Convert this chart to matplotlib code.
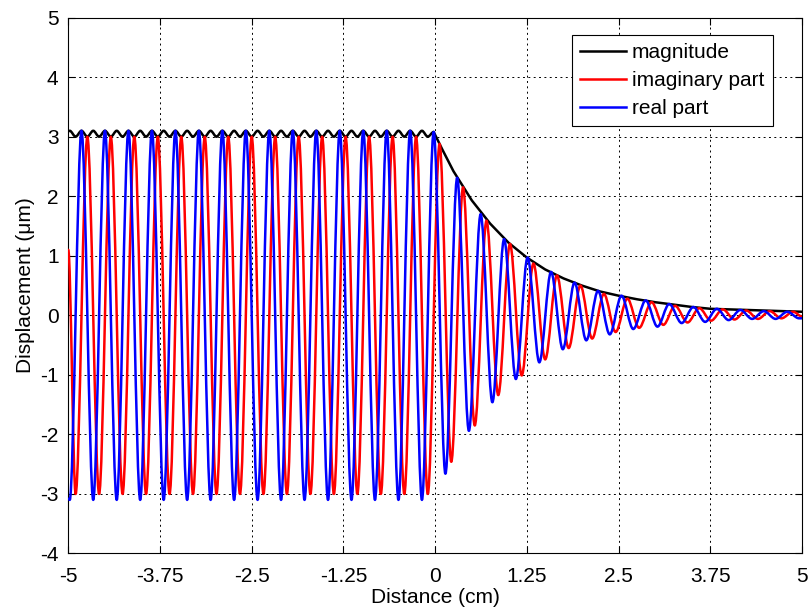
import matplotlib
matplotlib.use("Agg")
import matplotlib.pyplot as plt
from matplotlib.path import Path
from matplotlib.patches import PathPatch
from matplotlib.lines import Line2D

plt.rcParams['font.family'] = ['Liberation Sans', 'DejaVu Sans']
plt.rcParams['axes.unicode_minus'] = False

# extrema (x in cm, y in um)
# real part, x < 0 : starts at the left edge, then trough / peak alternating
real_neg_x = [-5.00, -4.98, -4.82, -4.66, -4.50, -4.34, -4.18, -4.02, -3.86, -3.70, -3.54,
              -3.38, -3.22, -3.06, -2.90, -2.74, -2.58, -2.42, -2.26, -2.10, -1.94,
              -1.78, -1.62, -1.46, -1.30, -1.14, -0.98, -0.82, -0.66, -0.50, -0.34,
              -0.18, -0.02]
real_neg_y = [-3.08, -3.1, 3.1, -3.1, 3.1, -3.1, 3.1, -3.1, 3.1, -3.1, 3.1,
              -3.1, 3.1, -3.1, 3.1, -3.1, 3.1, -3.1, 3.1, -3.1, 3.1,
              -3.1, 3.1, -3.1, 3.1, -3.1, 3.1, -3.1, 3.1, -3.1, 3.1,
              -3.1, 3.08]
# real part, x > 0 (decaying)
real_pos_x = [0.14, 0.30, 0.46, 0.62, 0.78, 0.94, 1.10, 1.26, 1.42, 1.58, 1.74,
              1.90, 2.06, 2.22, 2.38, 2.54, 2.70, 2.87, 3.03, 3.19, 3.36,
              3.52, 3.68, 3.84, 4.00, 4.16, 4.32, 4.48, 4.64, 4.80, 4.96, 5.00]
real_pos_y = [-2.66, 2.31, -1.94, 1.70, -1.46, 1.28, -1.07, 0.97, -0.79, 0.73, -0.57,
              0.55, -0.42, 0.41, -0.32, 0.33, -0.23, 0.25, -0.19, 0.19, -0.13,
              0.14, -0.11, 0.11, -0.08, 0.09, -0.06, 0.07, -0.06, 0.06, -0.05, -0.05]

# imaginary part, x < 0
imag_neg_x = [-5.00, -4.90, -4.74, -4.58, -4.42, -4.26, -4.10, -3.94, -3.78, -3.62, -3.46,
              -3.30, -3.14, -2.98, -2.82, -2.66, -2.50, -2.34, -2.18, -2.02, -1.86,
              -1.70, -1.54, -1.38, -1.22, -1.06, -0.90, -0.74, -0.58, -0.42, -0.26,
              -0.10]
imag_neg_y = [1.10, -3.0, 3.0, -3.0, 3.0, -3.0, 3.0, -3.0, 3.0, -3.0, 3.0,
              -3.0, 3.0, -3.0, 3.0, -3.0, 3.0, -3.0, 3.0, -3.0, 3.0,
              -3.0, 3.0, -3.0, 3.0, -3.0, 3.0, -3.0, 3.0, -3.0, 3.0,
              -3.0]
# imaginary part, x > 0
imag_pos_x = [0.06, 0.22, 0.38, 0.54, 0.70, 0.86, 1.02, 1.18, 1.34, 1.50, 1.66,
              1.82, 1.98, 2.14, 2.30, 2.46, 2.62, 2.78, 2.95, 3.11, 3.27,
              3.44, 3.60, 3.76, 3.92, 4.08, 4.24, 4.40, 4.56, 4.72, 4.88, 5.00]
imag_pos_y = [2.88, -2.46, 2.15, -1.85, 1.59, -1.34, 1.20, -1.01, 0.87, -0.74, 0.67,
              -0.55, 0.50, -0.39, 0.36, -0.28, 0.28, -0.21, 0.22, -0.16, 0.16,
              -0.12, 0.12, -0.09, 0.10, -0.07, 0.08, -0.06, 0.07, -0.05, 0.06, -0.02]

# magnitude: small ripple for x < 0, then smooth decay
mag_ripple_x = [-5.00, -4.98, -4.90, -4.82, -4.74, -4.66, -4.58, -4.50, -4.42, -4.34, -4.26,
                -4.18, -4.10, -4.02, -3.94, -3.86, -3.78, -3.70, -3.62, -3.54, -3.46,
                -3.38, -3.30, -3.22, -3.14, -3.06, -2.98, -2.90, -2.82, -2.74, -2.66,
                -2.58, -2.50, -2.42, -2.34, -2.26, -2.18, -2.10, -2.02, -1.94, -1.86,
                -1.78, -1.70, -1.62, -1.54, -1.46, -1.38, -1.30, -1.22, -1.14, -1.06,
                -0.98, -0.90, -0.82, -0.74, -0.66, -0.58, -0.50, -0.42, -0.34, -0.26,
                -0.18, -0.10, -0.02]
mag_ripple_y = [3.09, 3.1, 3.0, 3.1, 3.0, 3.1, 3.0, 3.1, 3.0, 3.1, 3.0,
                3.1, 3.0, 3.1, 3.0, 3.1, 3.0, 3.1, 3.0, 3.1, 3.0,
                3.1, 3.0, 3.1, 3.0, 3.1, 3.0, 3.1, 3.0, 3.1, 3.0,
                3.1, 3.0, 3.1, 3.0, 3.1, 3.0, 3.1, 3.0, 3.1, 3.0,
                3.1, 3.0, 3.1, 3.0, 3.1, 3.0, 3.1, 3.0, 3.1, 3.0,
                3.1, 3.0, 3.1, 3.0, 3.1, 3.0, 3.1, 3.0, 3.1, 3.0,
                3.1, 3.0, 3.08]
mag_decay_x = [0.10, 0.25, 0.50, 0.75, 1.00, 1.25, 1.50, 1.75, 2.00, 2.25, 2.50,
               2.75, 3.00, 3.25, 3.50, 3.75, 4.00, 4.25, 4.50, 4.75, 5.00]
mag_decay_y = [2.78, 2.42, 1.93, 1.54, 1.22, 0.97, 0.77, 0.62, 0.50, 0.40, 0.33,
               0.27, 0.22, 0.18, 0.14, 0.11, 0.10, 0.09, 0.08, 0.07, 0.06]

x_ticks = [-5, -3.75, -2.5, -1.25, 0, 1.25, 2.5, 3.75, 5]
x_tick_labels = ['-5', '-3.75', '-2.5', '-1.25', '0', '1.25', '2.5', '3.75', '5']
y_ticks = [-4, -3, -2, -1, 0, 1, 2, 3, 4, 5]


def smooth_path(xs, ys, line_xs=(), line_ys=()):
    # cubic segments with flat tangents at each extremum, then straight pieces
    verts = [(xs[0], ys[0])]
    codes = [Path.MOVETO]
    for x0, y0, x1, y1 in zip(xs[:-1], ys[:-1], xs[1:], ys[1:]):
        h = (x1 - x0) / 3
        verts += [(x0 + h, y0), (x1 - h, y1), (x1, y1)]
        codes += [Path.CURVE4] * 3
    for x, y in zip(line_xs, line_ys):
        verts.append((x, y))
        codes.append(Path.LINETO)
    return Path(verts, codes)


fig = plt.figure(figsize=(8.11, 6.12), dpi=100)
ax = fig.add_axes([0.0842, 0.0956, 0.9047, 0.8756])

lw = 1.8
series = [
    ('magnitude', 'black', smooth_path(mag_ripple_x, mag_ripple_y, mag_decay_x, mag_decay_y)),
    ('imaginary part', 'red', smooth_path(imag_neg_x + imag_pos_x, imag_neg_y + imag_pos_y)),
    ('real part', 'blue', smooth_path(real_neg_x + real_pos_x, real_neg_y + real_pos_y)),
]
handles = []
for name, color, path in series:
    ax.add_patch(PathPatch(path, facecolor='none', edgecolor=color, lw=lw,
                           capstyle='round', joinstyle='round', zorder=3))
    handles.append(Line2D([], [], color=color, lw=lw, label=name))

ax.set_xlim(-5, 5)
ax.set_ylim(-4, 5)
ax.set_xticks(x_ticks)
ax.set_xticklabels(x_tick_labels)
ax.set_yticks(y_ticks)
ax.tick_params(direction='in', top=True, right=True, length=5, width=0.8,
               labelsize=15)
ax.tick_params(axis='x', pad=10)
ax.tick_params(axis='y', pad=7)
ax.grid(True, color='black', linestyle=(0, (2, 3.5)), linewidth=0.7)
for sp in ax.spines.values():
    sp.set_linewidth(0.8)

ax.set_xlabel('Distance (cm)', fontsize=15, labelpad=1)
ax.set_ylabel('Displacement (μm)', fontsize=15, labelpad=4)

leg = ax.legend(handles=handles, loc='upper right', bbox_to_anchor=(0.96, 0.9675),
                fontsize=15, fancybox=False, framealpha=1, edgecolor='black',
                handlelength=2.2, handletextpad=0.3, labelspacing=0.42,
                borderpad=0.4, borderaxespad=0)
leg.get_frame().set_linewidth(0.8)

fig.savefig('out.png', dpi=100)
